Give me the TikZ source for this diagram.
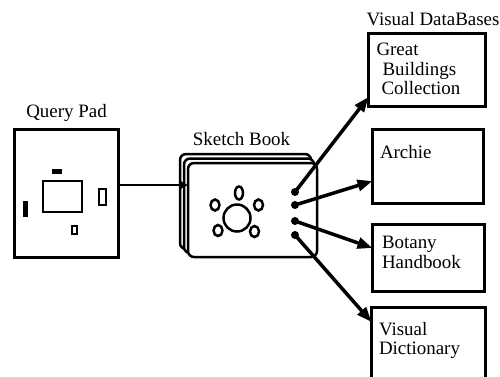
\documentclass[tikz,border=0pt]{standalone}
\usepackage{fontspec}
\setmainfont{Liberation Serif}
\usetikzlibrary{arrows.meta}

\begin{document}
\begin{tikzpicture}[x=1bp, y=-1bp,
  every node/.style={font=\fontsize{19}{19.5}\selectfont, inner sep=0pt, outer sep=0pt},
  dbbox/.style={draw, line width=3bp, anchor=north west},
  boxtext/.style={anchor=north west, align=left},
  page/.style={draw, fill=white, line width=2.5bp, rounded corners=6bp, anchor=north west},
  sketch/.style={line width=2.5bp},
  link/.style={line width=3.5bp, -{Triangle[length=15bp,width=11bp]}},
  blob/.style={fill, circle, minimum size=8bp}]
\useasboundingbox (0,0) rectangle (500,376);

% query pad
\node[draw, line width=3bp, anchor=north west, minimum width=104bp, minimum height=128bp] (qpad) at (14.5,129.5) {};
\node[anchor=base] (qpadname) at (qpad.north |- 0,117.5) {Query Pad};
\draw[sketch] (43,181) rectangle (82,212);
\fill (52,169) rectangle (62,174);
\fill (22.5,201) rectangle (27.5,217);
\draw[sketch] (99,189) rectangle (106,205);
\draw[sketch] (72,226) rectangle (77,234);

% sketch book
\node[page, minimum width=131bp, minimum height=95bp] (back) at (180,154) {};
\node[page, minimum width=130bp, minimum height=94.5bp] (mid) at (184,158.5) {};
\node[page, minimum width=129bp, minimum height=94bp] (book) at (188,163) {};
\node[anchor=base] (bookname) at (241.5,145.5) {Sketch Book};
\draw[sketch] (237,218) circle [radius=13.5bp];
\draw[sketch] (239,193) ellipse [x radius=4bp, y radius=6.5bp];
\draw[sketch] (215,205) ellipse [x radius=4.5bp, y radius=5.5bp];
\draw[sketch] (258.5,205) ellipse [x radius=4.5bp, y radius=5.5bp];
\draw[sketch] (218,230.5) ellipse [x radius=4.5bp, y radius=5.5bp];
\draw[sketch] (254.5,231.5) ellipse [x radius=4.5bp, y radius=5.5bp];

\draw[line width=2.5bp, -{Triangle[length=7bp,width=7bp]}] (qpad.east |- 0,185) -- (book.west |- 0,185);

% visual databases
\node[anchor=base] (dbname) at (433,25.6) {Visual DataBases};
\node[dbbox, minimum width=117bp, minimum height=73bp] (gbc) at (368.5,33.5) {};
\node[dbbox, minimum width=111bp, minimum height=74bp] (archie) at (372.5,129.5) {};
\node[dbbox, minimum width=112bp, minimum height=67bp] (botany) at (372.5,224.5) {};
\node[dbbox, minimum width=114bp, minimum height=80bp] (vdict) at (371.5,307.5) {};

\node[boxtext] (gbctext) at (376.5,43.2) {Great\\\hspace*{6bp}Buildings\\\hspace*{5bp}Collection};
\node[boxtext] (archietext) at (380,145) {Archie};
\node[boxtext] (botanytext) at (382,236.5) {Botany\\Handbook};
\node[boxtext] (vdicttext) at (379,322) {Visual\\Dictionary};

% links out of the book
\node[blob] (d1) at (295,192) {};
\node[blob] (d2) at (295,205) {};
\node[blob] (d3) at (295,221) {};
\node[blob] (d4) at (295,235) {};
\draw[link] (d1.center) -- (gbc.west |- 0,97);
\draw[link] (d2.center) -- (archie.west |- 0,181);
\draw[link] (d3.center) -- (botany.west |- 0,248);
\draw[link] (d4.center) -- (vdict.west |- 0,322);
\end{tikzpicture}
\end{document}
